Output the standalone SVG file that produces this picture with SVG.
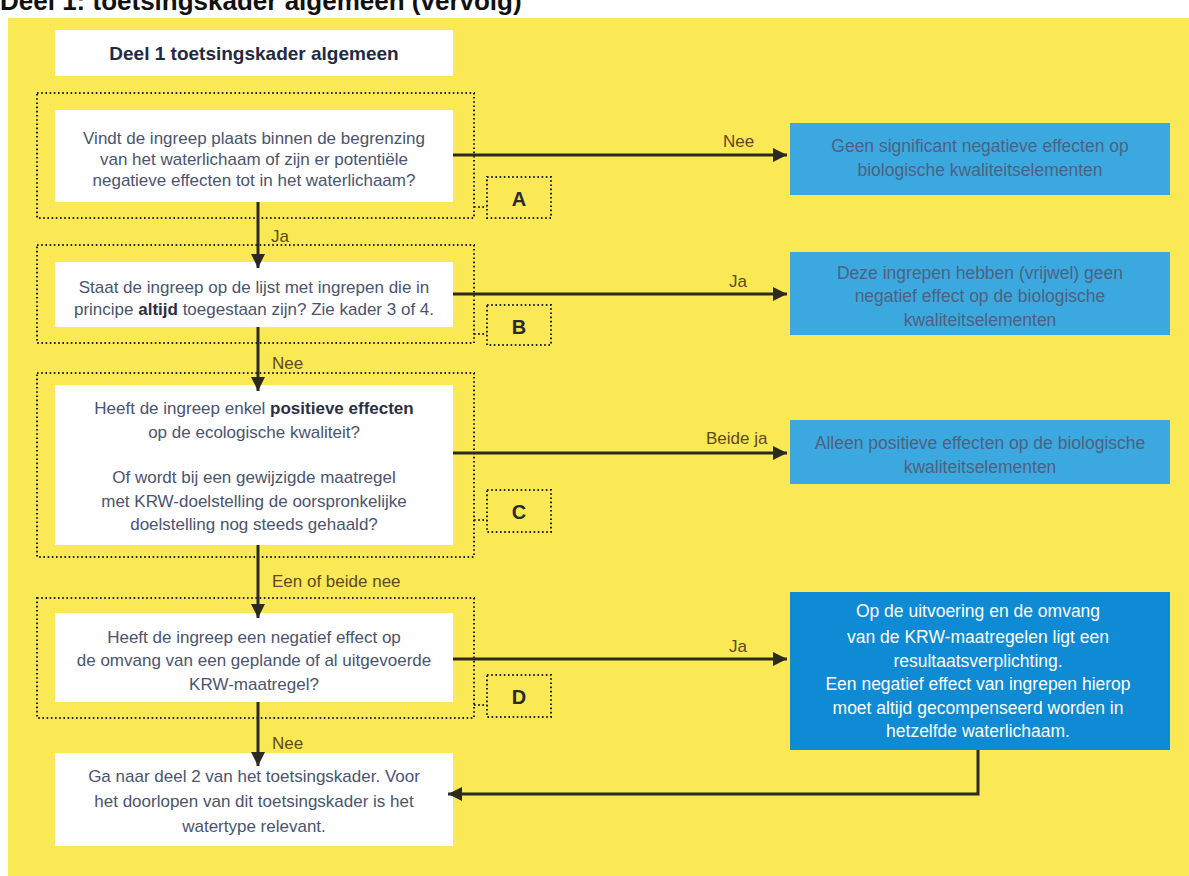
<svg xmlns="http://www.w3.org/2000/svg" width="1189" height="876" viewBox="0 0 1189 876">
<defs>
<style>
.bg{fill:#FAE954}
.wbox{fill:#ffffff}
.frame{fill:none;stroke:#222;stroke-width:2;stroke-dasharray:1.6 2.6}
.lbox{fill:#3BA9E0}
.dbox{fill:#0F8AD5}
.conn{fill:none;stroke:#2b2a1e;stroke-width:3}
.q{font-family:"Liberation Sans",Arial,sans-serif;font-size:17px;fill:#4A5470;text-anchor:middle}
.b{font-weight:bold;fill:#2a2f45}
.lt{font-family:"Liberation Sans",Arial,sans-serif;font-size:17.5px;fill:#4E6180;text-anchor:middle}
.wt{font-family:"Liberation Sans",Arial,sans-serif;font-size:17.5px;fill:#ffffff;text-anchor:middle}
.lab{font-family:"Liberation Sans",Arial,sans-serif;font-size:17px;fill:#5E4A1C}
.letter{font-family:"Liberation Sans",Arial,sans-serif;font-size:20px;font-weight:bold;fill:#2a2a2a;text-anchor:middle}
.title{font-family:"Liberation Sans",Arial,sans-serif;font-size:19px;font-weight:bold;fill:#1f2a44;text-anchor:middle}
.top{font-family:"Liberation Sans",Arial,sans-serif;font-size:26px;font-weight:bold;fill:#111}
</style>
<marker id="ah" markerUnits="userSpaceOnUse" markerWidth="16" markerHeight="16" refX="14" refY="7" orient="auto">
<path d="M0,0 L14,7 L0,14 z" fill="#2b2a1e"/>
</marker>
</defs>
<rect x="0" y="0" width="1189" height="876" fill="#ffffff"/>
<text class="top" x="0" y="10">Deel 1: toetsingskader algemeen (vervolg)</text>
<rect class="bg" x="8" y="18" width="1181" height="858"/>

<g id="n-title">
<rect class="wbox" x="55" y="30" width="398" height="46"/>
<text class="title" x="254" y="60">Deel 1 toetsingskader algemeen</text>
</g>

<g id="n-q1">
<rect class="frame" x="37" y="93" width="437" height="125"/>
<rect class="wbox" x="55" y="110" width="398" height="92"/>
<text class="q" x="254" y="144">Vindt de ingreep plaats binnen de begrenzing</text>
<text class="q" x="254" y="165">van het waterlichaam of zijn er potentiële</text>
<text class="q" x="254" y="186">negatieve effecten tot in het waterlichaam?</text>
</g>
<g id="n-A">
<rect class="frame" x="487" y="177" width="64" height="41"/>
<text class="letter" x="519" y="206">A</text>
</g>

<g id="n-q2">
<rect class="frame" x="37" y="245" width="437" height="98"/>
<rect class="wbox" x="55" y="262" width="398" height="65"/>
<text class="q" x="254" y="293">Staat de ingreep op de lijst met ingrepen die in</text>
<text class="q" x="254" y="315">principe <tspan class="b">altijd</tspan> toegestaan zijn? Zie kader 3 of 4.</text>
</g>
<g id="n-B">
<rect class="frame" x="487" y="305" width="64" height="40"/>
<text class="letter" x="519" y="334">B</text>
</g>

<g id="n-q3">
<rect class="frame" x="37" y="373" width="437" height="184"/>
<rect class="wbox" x="55" y="385" width="398" height="160"/>
<text class="q" x="254" y="414">Heeft de ingreep enkel <tspan class="b">positieve effecten</tspan></text>
<text class="q" x="254" y="438">op de ecologische kwaliteit?</text>
<text class="q" x="254" y="483">Of wordt bij een gewijzigde maatregel</text>
<text class="q" x="254" y="507">met KRW-doelstelling de oorspronkelijke</text>
<text class="q" x="254" y="530">doelstelling nog steeds gehaald?</text>
</g>
<g id="n-C">
<rect class="frame" x="487" y="490" width="64" height="42"/>
<text class="letter" x="519" y="519">C</text>
</g>

<g id="n-q4">
<rect class="frame" x="37" y="598" width="437" height="120"/>
<rect class="wbox" x="55" y="613" width="398" height="89"/>
<text class="q" x="254" y="643">Heeft de ingreep een negatief effect op</text>
<text class="q" x="254" y="666">de omvang van een geplande of al uitgevoerde</text>
<text class="q" x="254" y="690">KRW-maatregel?</text>
</g>
<g id="n-D">
<rect class="frame" x="487" y="675" width="64" height="42"/>
<text class="letter" x="519" y="704">D</text>
</g>

<g id="n-end">
<rect class="wbox" x="55" y="753" width="398" height="93"/>
<text class="q" x="254" y="782">Ga naar deel 2 van het toetsingskader. Voor</text>
<text class="q" x="254" y="807">het doorlopen van dit toetsingskader is het</text>
<text class="q" x="254" y="832">watertype relevant.</text>
</g>

<g id="n-r1">
<rect class="lbox" x="790" y="123" width="380" height="72"/>
<text class="lt" x="980" y="152">Geen significant negatieve effecten op</text>
<text class="lt" x="980" y="176">biologische kwaliteitselementen</text>
</g>
<g id="n-r2">
<rect class="lbox" x="790" y="252" width="380" height="83"/>
<text class="lt" x="980" y="279">Deze ingrepen hebben (vrijwel) geen</text>
<text class="lt" x="980" y="302">negatief effect op de biologische</text>
<text class="lt" x="980" y="326">kwaliteitselementen</text>
</g>
<g id="n-r3">
<rect class="lbox" x="790" y="420" width="380" height="64"/>
<text class="lt" x="980" y="449">Alleen positieve effecten op de biologische</text>
<text class="lt" x="980" y="473">kwaliteitselementen</text>
</g>
<g id="n-r4">
<rect class="dbox" x="790" y="592" width="380" height="158"/>
<text class="wt" x="978" y="617">Op de uitvoering en de omvang</text>
<text class="wt" x="978" y="643">van de KRW-maatregelen ligt een</text>
<text class="wt" x="978" y="667">resultaatsverplichting.</text>
<text class="wt" x="978" y="690">Een negatief effect van ingrepen hierop</text>
<text class="wt" x="978" y="714">moet altijd gecompenseerd worden in</text>
<text class="wt" x="978" y="737">hetzelfde waterlichaam.</text>
</g>

<g id="connectors">
<line class="conn" x1="453" y1="155" x2="787" y2="155" marker-end="url(#ah)"/>
<line class="conn" x1="453" y1="294" x2="787" y2="294" marker-end="url(#ah)"/>
<line class="conn" x1="453" y1="453" x2="787" y2="453" marker-end="url(#ah)"/>
<line class="conn" x1="453" y1="659" x2="787" y2="659" marker-end="url(#ah)"/>
<line class="conn" x1="258" y1="202" x2="258" y2="268" marker-end="url(#ah)"/>
<line class="conn" x1="258" y1="327" x2="258" y2="391" marker-end="url(#ah)"/>
<line class="conn" x1="258" y1="545" x2="258" y2="618" marker-end="url(#ah)"/>
<line class="conn" x1="258" y1="702" x2="258" y2="766" marker-end="url(#ah)"/>
<polyline class="conn" points="978,750 978,794 448,794" marker-end="url(#ah)"/>
<line class="frame" x1="474" y1="207" x2="487" y2="207"/>
<line class="frame" x1="474" y1="334" x2="487" y2="334"/>
<line class="frame" x1="474" y1="520" x2="487" y2="520"/>
<line class="frame" x1="474" y1="705" x2="487" y2="705"/>
<text class="lab" x="723" y="147">Nee</text>
<text class="lab" x="729" y="287">Ja</text>
<text class="lab" x="706" y="444">Beide ja</text>
<text class="lab" x="729" y="652">Ja</text>
<text class="lab" x="271" y="242">Ja</text>
<text class="lab" x="272" y="369">Nee</text>
<text class="lab" x="272" y="587">Een of beide nee</text>
<text class="lab" x="272" y="749">Nee</text>
</g>
</svg>
